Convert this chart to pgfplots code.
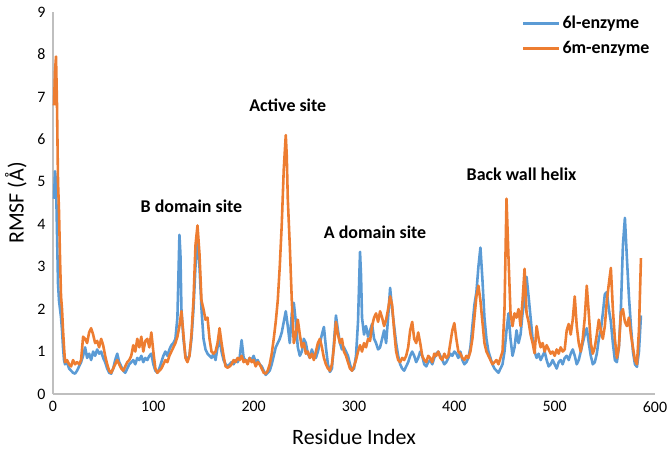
\documentclass[border=0pt]{standalone}
\usepackage{pgfplots}
\pgfplotsset{compat=1.18}
\usepackage{fontspec}
\setmainfont{Carlito}
\definecolor{cblue}{RGB}{91,155,213}
\definecolor{corange}{RGB}{237,125,49}
\definecolor{cgrid}{RGB}{191,191,191}
\begin{document}
\begin{tikzpicture}
\path[use as bounding box] (-53bp,-61bp) rectangle (615bp,394bp);
\begin{axis}[
  scale only axis, width=602bp, height=382bp,
  xmin=0, xmax=600, ymin=0, ymax=9,
  xtick={0,100,...,600}, ytick={0,1,...,9},
  axis x line*=bottom, axis y line*=left,
  axis line style={cgrid, line width=1.2pt, -},
  major tick length=0pt,
  tick label style={font=\fontsize{16}{18}\selectfont, black},
  /pgf/number format/assume math mode=true,
  xticklabel style={yshift=-4bp},
  yticklabel style={xshift=-4bp},
  xlabel={Residue Index}, ylabel={RMSF (Å)},
  label style={font=\fontsize{22}{25}\selectfont},
  xlabel style={yshift=-10bp},
  ylabel style={yshift=4bp},
  legend style={draw=none, fill=none, at={(axis cs:464,9.0)}, anchor=north west,
    font=\bfseries\fontsize{18}{20}\selectfont, row sep=7bp,
    legend cell align=left},
  legend image code/.code={\draw[#1, line width=2.8pt] (0bp,0bp) -- (36bp,0bp);},
  clip=false,
]
\addplot[cblue, line width=2.6pt, line join=round] coordinates {
(1,4.6)(2,5.25)(3,5.0)(4,3.8)(5,2.6)(6,2.2)(7,2.0)(8,1.8)(9,1.5)(10,1.1)(11,0.8)(12,0.7)(14,0.75)(16,0.6)(18,0.55)(20,0.5)(22,0.48)(24,0.55)(26,0.65)(28,0.75)(30,0.9)(32,1.1)(34,0.85)(36,0.95)(38,0.8)(40,1.0)(42,0.9)(44,1.05)(46,0.95)(48,1.0)(50,0.85)(52,0.75)(54,0.6)(56,0.5)(58,0.48)(60,0.6)(62,0.8)(64,0.95)(66,0.75)(68,0.65)(70,0.55)(72,0.5)(74,0.6)(76,0.7)(78,0.75)(80,0.8)(82,0.7)(84,0.85)(86,0.8)(88,0.9)(90,0.75)(92,0.85)(94,0.8)(96,0.9)(98,0.95)(100,0.7)(102,0.55)(104,0.5)(106,0.6)(108,0.75)(110,0.9)(112,1.0)(114,0.9)(116,1.05)(118,1.15)(120,1.2)(122,1.3)(124,1.8)(126,3.75)(127,3.3)(128,2.0)(130,1.3)(132,0.9)(134,0.8)(136,0.9)(138,1.3)(140,2.0)(142,3.0)(144,3.7)(146,3.0)(148,2.0)(150,1.3)(152,1.05)(154,0.95)(156,0.9)(158,0.85)(160,0.95)(162,0.8)(164,1.1)(166,1.3)(168,1.0)(170,0.8)(172,0.7)(174,0.65)(176,0.7)(178,0.75)(180,0.7)(182,0.8)(184,0.75)(186,0.85)(188,1.27)(190,0.85)(192,0.8)(194,0.75)(196,0.85)(198,0.8)(200,0.9)(202,0.75)(204,0.8)(206,0.7)(208,0.65)(210,0.55)(212,0.45)(214,0.5)(216,0.55)(218,0.7)(220,0.9)(222,1.1)(224,1.2)(226,1.3)(228,1.45)(230,1.7)(232,1.95)(234,1.6)(236,1.2)(238,1.9)(240,2.15)(242,1.7)(244,1.1)(246,0.9)(248,1.0)(250,1.3)(252,1.2)(254,0.95)(256,0.85)(258,1.05)(260,0.9)(262,0.85)(264,1.0)(266,1.2)(268,1.4)(270,1.58)(272,1.1)(274,0.7)(276,0.52)(278,0.6)(280,1.2)(282,1.85)(284,1.5)(286,1.2)(288,1.05)(290,1.1)(292,1.0)(294,0.9)(296,0.7)(298,0.55)(300,0.6)(302,0.9)(304,1.7)(306,3.35)(307,2.8)(308,1.8)(310,1.4)(312,1.6)(314,1.35)(316,1.5)(318,1.65)(320,1.3)(322,1.2)(324,1.05)(326,1.1)(328,1.3)(330,1.5)(332,1.2)(334,1.8)(336,2.5)(338,2.0)(340,1.6)(342,1.2)(344,0.9)(346,0.7)(348,0.6)(350,0.55)(352,0.65)(354,0.75)(356,0.9)(358,1.0)(360,0.9)(362,0.75)(364,0.85)(366,1.0)(368,0.9)(370,0.7)(372,0.65)(374,0.75)(376,0.8)(378,0.7)(380,0.85)(382,0.95)(384,1.0)(386,0.9)(388,0.8)(390,0.7)(392,0.75)(394,0.85)(396,0.95)(398,0.9)(400,1.0)(402,0.95)(404,0.85)(406,1.0)(408,0.8)(410,0.7)(412,0.75)(414,0.85)(416,1.1)(418,1.6)(420,2.1)(422,2.4)(424,3.0)(426,3.45)(428,2.7)(430,1.8)(432,1.3)(434,1.0)(436,0.85)(438,0.7)(440,0.6)(442,0.55)(444,0.5)(446,0.6)(448,0.7)(450,1.0)(452,1.5)(454,1.9)(456,1.3)(458,0.9)(460,1.1)(462,1.5)(464,1.2)(466,1.4)(468,1.9)(470,2.2)(472,2.76)(474,2.3)(476,1.8)(478,1.3)(480,1.0)(482,0.85)(484,0.95)(486,0.8)(488,0.9)(490,1.0)(492,0.8)(494,0.65)(496,0.7)(498,0.8)(500,0.7)(502,0.6)(504,0.75)(506,0.8)(508,0.7)(510,0.85)(512,0.9)(514,0.8)(516,0.95)(518,1.05)(520,0.9)(522,0.7)(524,0.8)(526,1.0)(528,1.2)(530,1.4)(532,1.55)(534,1.2)(536,0.9)(538,0.7)(540,0.75)(542,0.95)(544,1.3)(546,1.5)(548,1.9)(550,2.35)(552,2.4)(554,2.0)(556,1.7)(558,1.2)(560,0.8)(562,0.75)(564,1.1)(566,2.0)(568,3.5)(570,4.15)(572,3.2)(574,2.3)(576,1.6)(578,1.0)(580,0.7)(582,0.64)(584,1.0)(586,1.85)
};
\addlegendentry{6l-enzyme}
\addplot[corange, line width=2.6pt, line join=round] coordinates {
(1,6.8)(2,7.6)(3,7.95)(4,6.8)(5,5.0)(6,4.3)(7,3.2)(8,2.3)(9,2.0)(10,1.5)(11,1.1)(12,0.75)(14,0.8)(16,0.7)(18,0.65)(20,0.8)(22,0.7)(24,0.75)(26,0.7)(28,0.8)(30,1.35)(32,1.3)(34,1.2)(36,1.45)(38,1.55)(40,1.4)(42,1.2)(44,1.25)(46,1.1)(48,1.3)(50,1.15)(52,0.9)(54,0.7)(56,0.55)(58,0.5)(60,0.6)(62,0.7)(64,0.8)(66,0.7)(68,0.6)(70,0.55)(72,0.65)(74,0.75)(76,0.8)(78,0.9)(80,1.15)(82,1.0)(84,1.3)(86,1.1)(88,1.35)(90,1.0)(92,1.25)(94,1.3)(96,1.1)(98,1.45)(100,1.0)(102,0.6)(104,0.5)(106,0.55)(108,0.6)(110,0.7)(112,0.8)(114,0.75)(116,0.9)(118,1.0)(120,1.1)(122,1.2)(124,1.35)(126,1.6)(128,1.95)(130,1.4)(132,0.85)(134,0.75)(136,0.9)(138,1.4)(140,2.2)(142,3.5)(144,3.97)(146,3.3)(148,2.2)(150,2.0)(152,1.75)(154,1.8)(156,1.3)(158,1.0)(160,0.95)(162,1.0)(164,1.2)(166,1.55)(168,1.2)(170,0.9)(172,0.65)(174,0.62)(176,0.65)(178,0.7)(180,0.8)(182,0.75)(184,0.85)(186,0.8)(188,0.9)(190,0.75)(192,0.8)(194,0.7)(196,0.85)(198,0.75)(200,0.8)(202,0.65)(204,0.75)(206,0.7)(208,0.6)(210,0.5)(212,0.48)(214,0.55)(216,0.7)(218,0.95)(220,1.3)(222,1.7)(224,2.2)(226,3.0)(228,4.0)(230,5.3)(232,6.1)(233,5.6)(234,4.6)(236,3.5)(238,2.2)(240,1.2)(242,1.4)(244,1.75)(246,1.4)(248,1.1)(250,1.2)(252,0.95)(254,1.0)(256,0.85)(258,0.95)(260,0.8)(262,1.0)(264,1.2)(266,1.3)(268,1.1)(270,0.85)(272,0.7)(274,0.6)(276,0.55)(278,0.7)(280,1.1)(282,1.7)(284,1.4)(286,1.2)(288,1.3)(290,1.0)(292,0.9)(294,0.75)(296,0.6)(298,0.55)(300,0.65)(302,0.8)(304,1.0)(306,1.15)(308,1.0)(310,1.2)(312,1.1)(314,1.3)(316,1.25)(318,1.6)(320,1.8)(322,1.9)(324,1.7)(326,1.95)(328,1.8)(330,1.6)(332,1.75)(334,2.0)(336,2.3)(338,2.1)(340,1.5)(342,1.0)(344,0.8)(346,0.75)(348,0.85)(350,0.8)(352,0.9)(354,1.1)(356,1.5)(358,1.7)(360,1.3)(362,1.2)(364,1.45)(366,1.2)(368,0.9)(370,0.8)(372,0.75)(374,0.9)(376,0.85)(378,0.75)(380,0.95)(382,0.9)(384,1.0)(386,0.85)(388,0.8)(390,0.95)(392,0.85)(394,0.9)(396,1.2)(398,1.5)(400,1.67)(402,1.3)(404,1.0)(406,0.95)(408,0.85)(410,0.8)(412,0.9)(414,0.85)(416,1.0)(418,1.3)(420,1.8)(422,2.3)(424,2.55)(426,2.2)(428,1.7)(430,1.2)(432,1.0)(434,0.9)(436,0.8)(438,0.7)(440,0.75)(442,0.8)(444,0.7)(446,0.85)(448,1.0)(450,2.0)(452,4.6)(454,3.2)(456,1.9)(458,1.6)(460,1.9)(462,1.8)(464,2.0)(466,1.6)(468,2.2)(470,2.95)(472,1.9)(474,1.7)(476,1.4)(478,1.2)(480,0.96)(482,1.6)(484,1.3)(486,1.1)(488,1.2)(490,1.0)(492,1.15)(494,1.05)(496,0.95)(498,1.0)(500,0.9)(502,1.05)(504,0.95)(506,1.1)(508,1.0)(510,1.05)(512,1.5)(514,1.65)(516,1.4)(518,1.75)(520,2.3)(522,1.6)(524,1.2)(526,1.0)(528,1.3)(530,1.8)(532,2.55)(534,1.9)(536,1.2)(538,0.95)(540,1.1)(542,1.4)(544,1.75)(546,1.5)(548,1.3)(550,1.6)(552,2.2)(554,2.6)(556,2.97)(558,2.0)(560,1.3)(562,0.85)(564,1.1)(566,1.9)(568,2.0)(570,1.7)(572,1.6)(574,1.8)(576,1.4)(578,1.1)(580,0.8)(582,0.7)(584,1.5)(586,3.2)
};
\addlegendentry{6m-enzyme}
\begin{scope}[every node/.style={font=\bfseries\fontsize{18}{20}\selectfont}]
\node at (axis cs:138,4.43) {B domain site};
\node at (axis cs:234,6.8) {Active site};
\node at (axis cs:321,3.82) {A domain site};
\node at (axis cs:467,5.17) {Back wall helix};
\end{scope}
\end{axis}
\end{tikzpicture}
\end{document}
